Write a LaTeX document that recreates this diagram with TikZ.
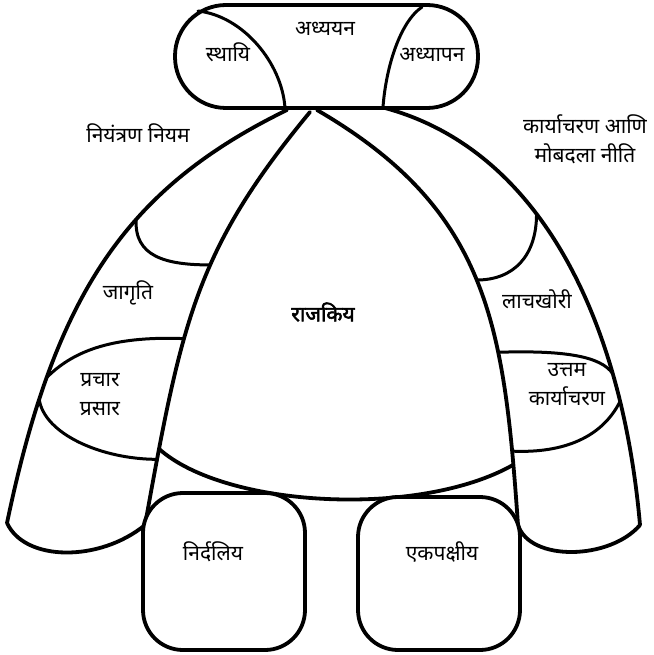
\documentclass[tikz,border=0pt]{standalone}
\usepackage{fontspec}
\newfontfamily\deva[Script=Devanagari]{Noto Sans}
\newfontfamily\devabf[Script=Devanagari, FakeBold=2.5]{Noto Sans}
\usepackage{tikz}
\usetikzlibrary{positioning}

\begin{document}
\begin{tikzpicture}[
    x=1pt, y=-1pt,
    outline/.style={line width=3.8pt, line join=round, line cap=round},
    divider/.style={line width=3pt, line cap=round},
    seat/.style={outline, rounded corners=40pt, fill=white},
    word/.style={font=\deva\fontsize{21}{29}\selectfont, align=center, inner sep=0pt}
]
\useasboundingbox (0,0) rectangle (653,655);

% top capsule
\coordinate (tl) at (175,5);
\coordinate (br) at (478,108);
\coordinate (sa) at (198,11);
\coordinate (sb) at (285,108);
\coordinate (pa) at (422,7);
\coordinate (pb) at (383,107);

\draw[outline, rounded corners=51pt] (tl) rectangle (br);
\draw[divider] (sa) .. controls +(45,5) and +(-3,-45) .. (sb);
\draw[divider] (pa) .. controls +(-22,15) and +(3,-40) .. (pb);

\node[word] (adhyayan) at (325,29) {अध्ययन};
\node[word] (sthayi) at (228,52) {स्थायि};
\node[word] (adhyapan) at (432,55) {अध्यापन};

% outer and inner arcs
\draw[outline] (287,110) coordinate (ol0)
    .. controls (127,188) and (55,293) .. (7,523) coordinate (ol5)
    coordinate[pos=0.39] (ol2) coordinate[pos=0.76] (ol3) coordinate[pos=0.8] (ol4);
\draw[outline] (310,112) coordinate (il0)
    .. controls (196,250) and (182,320) .. (145,525) coordinate (il6)
    coordinate[pos=0.42] (il2) coordinate[pos=0.62] (il3)
    coordinate[pos=0.865] (il4) coordinate[pos=0.885] (il5);
\draw[outline] (317,110) coordinate (ir0)
    .. controls (489,210) and (504,325) .. (518,525) coordinate (ir6)
    coordinate[pos=0.5] (ir2) coordinate[pos=0.67] (ir3)
    coordinate[pos=0.87] (ir4) coordinate[pos=0.895] (ir5);
\draw[outline] (385,108) coordinate (or0)
    .. controls (540,150) and (622,320) .. (640,525) coordinate (or5)
    coordinate[pos=0.4] (or2) coordinate[pos=0.74] (or3) coordinate[pos=0.79] (or4);

% band pieces
\draw[divider] (ol2) .. controls +(-2,37) and +(-45,0) .. (il2);
\draw[divider] (il3) .. controls +(-75,-3) and +(25,-25) .. (ol3);
\draw[divider] (ol4) .. controls +(5,35) and +(-55,0) .. (il5);
\draw[outline] (ol5) .. controls (25,562) and (100,562) .. (il6);

\draw[divider] (or2) .. controls +(0,42) and +(37,0) .. (ir2);
\draw[divider] (ir3) .. controls +(65,-2) and +(-12,-18) .. (or3);
\draw[divider] (or4) .. controls +(-20,40) and +(45,2) .. (ir4);
\draw[outline] (ir6) .. controls (530,562) and (610,560) .. (or5);

\draw[outline] (il4) .. controls (225,508) and (420,518) .. (ir5);

% seats
\coordinate (na) at (143,493);
\coordinate (nb) at (305,650);
\coordinate (ea) at (358,497);
\coordinate (eb) at (520,650);
\draw[seat] (na) rectangle (nb);
\draw[seat] (ea) rectangle (eb);

\node[word] (niyam) at (138,133) {नियंत्रण नियम};
\node[word] (jagruti) at (128,293) {जागृति};
\node[word] (prachar) at (100,395) {प्रचार\\प्रसार};
\node[word, font=\devabf\fontsize{21}{29}\selectfont] (rajkiya) at (323,312) {राजकिय};
\node[word] (karya) at (585,139) {कार्याचरण आणि\\मोबदला नीति};
\node[word] (lach) at (537,299) {लाचखोरी};
\node[word] (uttam) at (567,385) {उत्तम\\कार्याचरण};
\node[word] (nirdaliya) at (213,552) {निर्दलिय};
\node[word] (ekpakshiya) at (442,552) {एकपक्षीय};
\end{tikzpicture}
\end{document}
